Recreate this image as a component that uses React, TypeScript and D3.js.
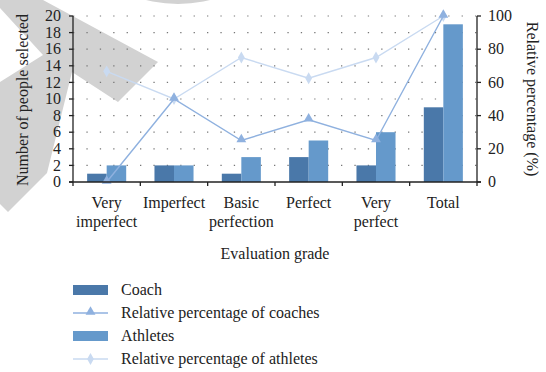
import React from "react";
import * as d3 from "d3";

// Evaluation grades along the x axis (split into display lines)
const categories = ["Very imperfect", "Imperfect", "Basic perfection", "Perfect", "Very perfect", "Total"];
const categoryLines = [["Very", "imperfect"], ["Imperfect"], ["Basic", "perfection"], ["Perfect"], ["Very", "perfect"], ["Total"]];

// Number of people selecting each grade
const coachCounts = [1, 2, 1, 3, 2, 9];
const athleteCounts = [2, 2, 3, 5, 6, 19];

// Relative percentages (%) on the right axis
const coachPct = [0, 50, 25, 37.5, 25, 100];
const athletePct = [66.7, 50, 75, 62.5, 75, 100];

const leftTicks = [0, 2, 4, 6, 8, 10, 12, 14, 16, 18, 20];
const rightTicks = [0, 20, 40, 60, 80, 100];

const W = 546;
const H = 372;
const FONT = "'Liberation Serif', 'DejaVu Serif', serif";

const C_COACH = "#4a78a9";
const C_ATH = "#6599cb";
const C_COACH_LINE = "#8fb1df";
const C_ATH_LINE = "#c9daf1";

export default function App() {
  const left = 73, right = 477, top = 16, bottom = 182;

  const x = d3.scaleBand<string>().domain(categories).range([left, right]).paddingInner(0).paddingOuter(0);
  const y = d3.scaleLinear().domain([0, 20]).range([bottom, top]);
  const yR = d3.scaleLinear().domain([0, 100]).range([bottom, top]);
  const bw = x.bandwidth();
  const barW = bw * 0.29;
  const cx = (c: string) => (x(c) as number) + bw / 2;

  const coachLine = d3.line<number>().x((_, i) => cx(categories[i])).y((v) => yR(v));
  const athLine = d3.line<number>().x((_, i) => cx(categories[i])).y((v) => yR(v));

  const tri = d3.symbol().type(d3.symbolTriangle).size(42)() as string;
  const dia = d3.symbol().type(d3.symbolDiamond).size(40)() as string;

  const boundaries = categories.map((c) => x(c) as number).concat([right]);

  const legendItems = [
    { label: "Coach", kind: "bar", color: C_COACH },
    { label: "Relative percentage of coaches", kind: "line", color: C_COACH_LINE, marker: tri },
    { label: "Athletes", kind: "bar", color: C_ATH },
    { label: "Relative percentage of athletes", kind: "line", color: C_ATH_LINE, marker: dia },
  ];

  return (
    <svg width={W} height={H} style={{ position: "absolute", left: 0, top: 0, background: "#fff" }} fontFamily={FONT}>
      {/* background watermark shapes */}
      <g fill="#d2d2d2">
        <polygon points="0,0 43,0 158,62 118,102 72,72 47,173 8,212 0,204 0,82 43,55 0,8" />
        <circle cx={178} cy={-126} r={130} />
      </g>

      {/* dotted horizontal gridlines */}
      <g stroke="#777" strokeWidth={1.2} strokeDasharray="1.3 12.1">
        {leftTicks.slice(1).map((t) => (
          <line key={t} x1={left} x2={right} y1={y(t)} y2={y(t)} />
        ))}
      </g>

      {/* bars */}
      {categories.map((c, i) => (
        <g key={c}>
          <rect x={cx(c) - barW} y={y(coachCounts[i])} width={barW} height={bottom - y(coachCounts[i])} fill={C_COACH} />
          <rect x={cx(c)} y={y(athleteCounts[i])} width={barW} height={bottom - y(athleteCounts[i])} fill={C_ATH} />
        </g>
      ))}

      {/* percentage lines */}
      <path d={athLine(athletePct) as string} fill="none" stroke={C_ATH_LINE} strokeWidth={1.4} />
      {athletePct.map((v, i) => (
        <path key={i} d={dia} transform={`translate(${cx(categories[i])},${yR(v)})`} fill={C_ATH_LINE} />
      ))}
      <path d={coachLine(coachPct) as string} fill="none" stroke={C_COACH_LINE} strokeWidth={1.4} />
      {coachPct.map((v, i) => (
        <path key={i} d={tri} transform={`translate(${cx(categories[i])},${yR(v) - 1})`} fill={C_COACH_LINE} />
      ))}

      {/* axes */}
      <g stroke="#222" strokeWidth={1.3}>
        <line x1={left} x2={left} y1={top} y2={bottom} />
        <line x1={right} x2={right} y1={top} y2={bottom} />
        <line x1={left - 4} x2={right + 4} y1={bottom} y2={bottom} />
        {leftTicks.map((t) => (
          <line key={t} x1={left - 4} x2={left} y1={y(t)} y2={y(t)} />
        ))}
        {rightTicks.map((t) => (
          <line key={t} x1={right} x2={right + 4} y1={yR(t)} y2={yR(t)} />
        ))}
        {boundaries.map((b, i) => (
          <line key={i} x1={b} x2={b} y1={bottom} y2={bottom + 4} />
        ))}
      </g>

      <g fontSize={16} fill="#222">
        {leftTicks.map((t) => (
          <text key={t} x={left - 12} y={y(t)} dy="0.33em" textAnchor="end">{t}</text>
        ))}
        {rightTicks.map((t) => (
          <text key={t} x={right + 11} y={yR(t)} dy="0.33em" textAnchor="start">{t}</text>
        ))}
        {categories.map((c, i) =>
          categoryLines[i].map((ln, j) => (
            <text key={c + j} x={cx(c)} y={208 + j * 19} textAnchor="middle">{ln}</text>
          ))
        )}
        <text x={(left + right) / 2} y={259} textAnchor="middle">Evaluation grade</text>
        <text transform={`translate(28,100) rotate(-90)`} textAnchor="middle">Number of people selected</text>
        <text transform={`translate(527,99) rotate(90)`} textAnchor="middle">Relative percentage (%)</text>
      </g>

      {/* legend */}
      <g fontSize={16} fill="#222">
        {legendItems.map((it, i) => {
          const ly = 290 + i * 23;
          return (
            <g key={it.label}>
              {it.kind === "bar" ? (
                <rect x={73} y={ly - 5} width={35} height={10} fill={it.color} />
              ) : (
                <g>
                  <line x1={73} x2={108} y1={ly} y2={ly} stroke={it.color} strokeWidth={1.4} />
                  <path d={it.marker as string} transform={`translate(90.5,${ly - (i === 1 ? 1 : 0)})`} fill={it.color} />
                </g>
              )}
              <text x={121} y={ly} dy="0.33em">{it.label}</text>
            </g>
          );
        })}
      </g>
    </svg>
  );
}
